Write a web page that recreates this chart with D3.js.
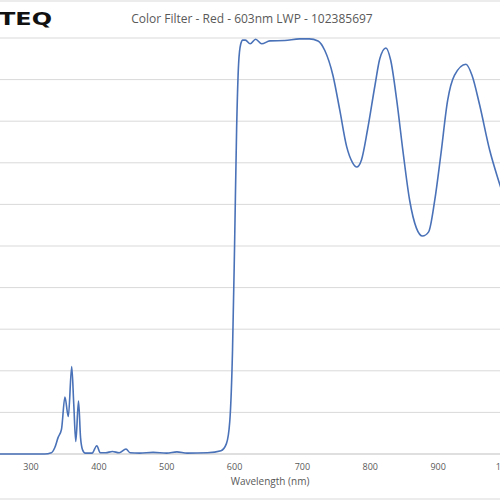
<!DOCTYPE html>
<html><head><meta charset="utf-8">
<script src="https://cdn.jsdelivr.net/npm/d3@7"></script>
<style>body{margin:0;background:#fff}svg{display:block}</style></head>
<body><svg id="c" width="500" height="500"></svg>
<script>
const wavelength = [240,300,320,330,335,340,345,350,355,360,363,366,370,373,376,380,390,397,402,410,420,430,440,446,460,480,500,515,530,560,580,588,593,597,600,603,606,609,612,616,623,631,640,652,674,696,710,723,733,745,755,765,774,780,787,796,807,814,823,830,839,848,858,868,877,886,895,904,914,924,941,950,961,976,991,1000];
const transmission = [0,0,0,0.3,1.5,4,6,13.7,9,21,12,3,12.7,4,1,0.2,0.2,2,0.3,0.3,0.6,0.3,1.2,0.3,0.2,0.4,0.2,0.5,0.2,0.3,0.8,2.5,8,25,50,78,94,98.5,99.5,99.5,98.6,99.7,98.6,99.3,99.4,99.8,99.8,99.3,97,91,82.7,74,70,69,70.7,78,88.7,95,97.6,94.7,85,73,61,54.3,52.4,53.4,61,72,85,91,93.7,91,84,73,64.7,60];
const xTicks = [300,400,500,600,700,800,900,1000];
const yTicks = [0,10,20,30,40,50,60,70,80,90,100];
const svg = d3.select("#c");
const x = d3.scaleLinear().domain([300,1000]).range([31,506]);
const y = d3.scaleLinear().domain([0,100]).range([454,38]);
svg.append("line").attr("x1",0).attr("x2",500).attr("y1",1).attr("y2",1).attr("stroke","#d9d9d9");
svg.append("line").attr("x1",0).attr("x2",500).attr("y1",499).attr("y2",499).attr("stroke","#d9d9d9");
svg.selectAll("line.g").data(yTicks).join("line").attr("class","g")
  .attr("x1",0).attr("x2",500).attr("y1",d=>y(d)).attr("y2",d=>y(d))
  .attr("stroke",d=>d===0?"#bfbfbf":"#d9d9d9").attr("stroke-width",1);
svg.selectAll("text.xt").data(xTicks).join("text").attr("class","xt")
  .attr("x",d=>x(d)).attr("y",470).attr("text-anchor","middle")
  .attr("font-family","Open Sans, sans-serif").attr("font-size",9).attr("fill","#595959").text(d=>d);
svg.append("text").attr("x",270).attr("y",485).attr("text-anchor","middle")
  .attr("font-family","Open Sans, sans-serif").attr("font-size",10).attr("fill","#595959").text("Wavelength (nm)");
svg.append("text").attr("x",252).attr("y",23).attr("text-anchor","middle")
  .attr("font-family","Open Sans, sans-serif").attr("font-size",12).attr("fill","#595959").text("Color Filter - Red - 603nm LWP - 102385697");
svg.append("text").attr("x",-1).attr("y",25).attr("font-family","DejaVu Sans, sans-serif").attr("font-weight","bold")
  .attr("font-size",18).attr("textLength",53).attr("lengthAdjust","spacingAndGlyphs").attr("fill","#111").text("TEQ");
const pts = wavelength.map((w,i)=>[w,transmission[i]]);
svg.append("path").datum(pts)
  .attr("d",d3.line().x(d=>x(d[0])).y(d=>y(d[1])).curve(d3.curveMonotoneX))
  .attr("fill","none").attr("stroke","#4a72b8").attr("stroke-width",1.6);
</script></body></html>
